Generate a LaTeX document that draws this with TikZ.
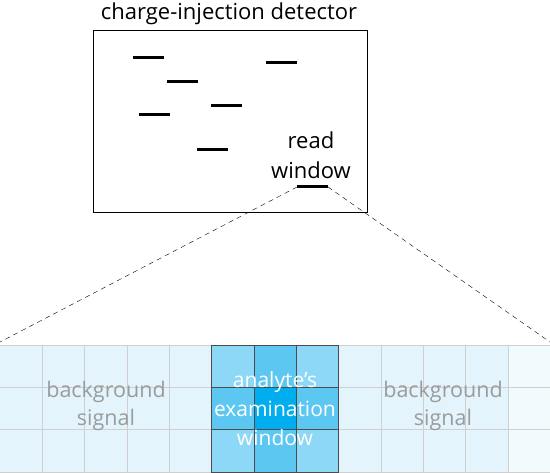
\documentclass[tikz,border=0pt]{standalone}
\usepackage{fontspec}
\setmainfont{Open Sans}
\definecolor{bgcell}{HTML}{E3F4FC}
\definecolor{fadecell}{HTML}{F1FAFD}
\definecolor{cornercell}{HTML}{8DD8F7}
\definecolor{edgecell}{HTML}{5CC8F1}
\definecolor{centercell}{HTML}{00AEEF}
\definecolor{gridgray}{HTML}{CFCFCF}
\definecolor{labelgray}{HTML}{9B9B9B}
\tikzset{
  hit/.style={line width=3pt},
  zoomline/.style={dash pattern=on 5pt off 4pt},
  bglabel/.style={text=labelgray, align=center, font=\fontsize{21.5}{28}\selectfont},
  winlabel/.style={text=white, align=center, font=\fontsize{21}{29}\selectfont},
}
\begin{document}
\begin{tikzpicture}[x=1pt,y=-1pt]
    \useasboundingbox (0,0) rectangle (550,473);
    \def\cw{42.31}

    % Detektor
    \draw[line width=1pt] (93,31) rectangle (367,213);
    \node[font=\fontsize{22}{24}\selectfont] (title) at (229,14) {charge-injection detector};

    % Treffer
    \foreach \x/\y in {133/58,167/82,266/63,211/106,139/115,197/150} {
        \draw[hit] (\x,\y) -- ++(31,0);
    }

    % Lesefenster
    \coordinate (rwl) at (297,187);
    \coordinate (rwr) at (328,187);
    \draw[hit] (rwl) -- (rwr);
    \node[align=center, font=\fontsize{22}{30}\selectfont] (readlabel) at (311,155) {read\\window};

    % Raster
    \foreach \c in {0,...,11} {
        \foreach \r in {0,1,2} {
            \fill[bgcell] ({\c*\cw},{345+\r*\cw}) rectangle ++(\cw,\cw);
        }
    }
    \fill[fadecell] ({12*\cw},345) rectangle (550,473);
    \foreach \c in {1,...,12} {
        \draw[gridgray] ({\c*\cw},345) -- ({\c*\cw},473);
    }
    \foreach \r in {0,1,2,3} {
        \draw[gridgray] (0,{345+\r*\cw}) -- (550,{345+\r*\cw});
    }
    \coordinate (gridnw) at (0,342);
    \coordinate (gridne) at (550,342);

    % Analytfenster
    \foreach \c/\r/\col in {0/0/cornercell,1/0/edgecell,2/0/cornercell,
                            0/1/edgecell,1/1/centercell,2/1/edgecell,
                            0/2/cornercell,1/2/edgecell,2/2/cornercell} {
        \filldraw[fill=\col, draw=black!70] ({(5+\c)*\cw},{345+\r*\cw}) rectangle ++(\cw,\cw);
    }

    % Beschriftungen
    \node[bglabel] (bgleft) at (106,406) {background\\signal};
    \node[bglabel] (bgright) at (443,406) {background\\signal};
    \node[winlabel] (winlabel) at (275,409) {analyte's\\examination\\window};

    % Zoomlinien
    \draw[zoomline] (rwl) -- (gridnw);
    \draw[zoomline] (rwr) -- (gridne);
\end{tikzpicture}
\end{document}
